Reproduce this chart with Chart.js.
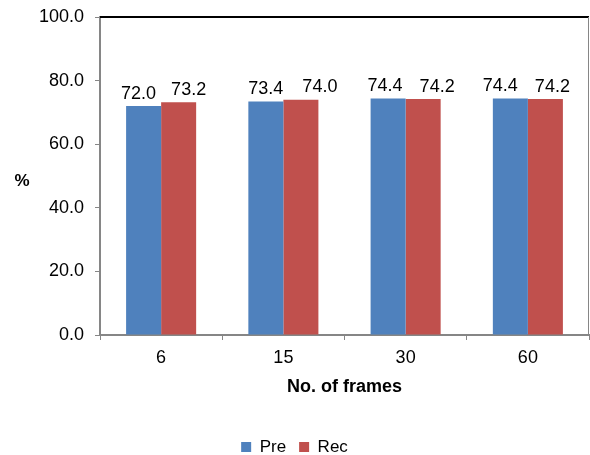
<!DOCTYPE html>
<html>
<head>
<meta charset="utf-8">
<title>Pre / Rec by number of frames</title>
<script src="https://cdn.jsdelivr.net/npm/chart.js@4/dist/chart.umd.min.js"></script>
<style>
  html, body { margin: 0; padding: 0; background: #ffffff; }
  #wrap { width: 590px; height: 455px; }
</style>
</head>
<body>
<div id="wrap"><canvas id="chart" width="590" height="455"></canvas></div>
<script>
// Number of frames used per sample
const frames = ['6', '15', '30', '60'];
// Precision and recall (%)
const preValues = [72.0, 73.4, 74.4, 74.4];
const recValues = [73.2, 74.0, 74.2, 74.2];
// Value axis ticks
const yTicks = [0, 20, 40, 60, 80, 100];

const FONT = '"Liberation Sans", Arial, sans-serif';
const AXIS_GREY = '#868686';

// Value labels above each bar, the "%" axis caption and the plot frame lines
const decorations = {
  id: 'decorations',
  afterDatasetsDraw(chart, args, opts) {
    const ctx = chart.ctx;
    const area = chart.chartArea;
    ctx.save();
    // frame: black line along the top, grey along the right
    ctx.strokeStyle = '#000000';
    ctx.lineWidth = 2;
    ctx.beginPath();
    ctx.moveTo(area.left, area.top);
    ctx.lineTo(area.right, area.top);
    ctx.stroke();
    ctx.strokeStyle = AXIS_GREY;
    ctx.lineWidth = 1;
    ctx.beginPath();
    ctx.moveTo(area.right - 0.5, area.top);
    ctx.lineTo(area.right - 0.5, area.bottom);
    ctx.stroke();

    // bar values, nudged sideways so neighbouring labels do not collide
    ctx.fillStyle = '#000000';
    ctx.font = '18px ' + FONT;
    ctx.textAlign = 'center';
    ctx.textBaseline = 'alphabetic';
    chart.data.datasets.forEach((ds, i) => {
      const shift = opts.labelShift[ds.label] || [];
      chart.getDatasetMeta(i).data.forEach((bar, j) => {
        ctx.fillText(ds.data[j].toFixed(1), bar.x + (shift[j] || 0), bar.y - 7.5);
      });
    });

    // unrotated y-axis caption
    ctx.font = 'bold 17px ' + FONT;
    ctx.textBaseline = 'middle';
    ctx.fillText('%', 22, (area.top + area.bottom) / 2 + 5);
    ctx.restore();
  }
};

new Chart(document.getElementById('chart'), {
  type: 'bar',
  data: {
    labels: frames,
    datasets: [
      { label: 'Pre', data: preValues, backgroundColor: '#4F81BD', borderWidth: 0 },
      { label: 'Rec', data: recValues, backgroundColor: '#C0504D', borderWidth: 0 }
    ]
  },
  options: {
    responsive: false,
    animation: false,
    devicePixelRatio: 1,
    layout: { padding: { top: 17, right: 1, bottom: -10.5, left: 0 } },
    datasets: {
      bar: { categoryPercentage: 0.573, barPercentage: 1.0 }
    },
    plugins: {
      decorations: {
        labelShift: { Pre: [-5, 0, -3, -10], Rec: [10, 19, 14, 7] }
      },
      legend: {
        position: 'bottom',
        labels: {
          boxWidth: 10,
          boxHeight: 10,
          padding: 13,
          color: '#000000',
          font: { family: FONT, size: 17 }
        }
      },
      tooltip: { enabled: false },
      title: { display: false }
    },
    scales: {
      x: {
        grid: {
          offset: true,
          drawOnChartArea: false,
          drawTicks: true,
          tickLength: 5,
          tickColor: AXIS_GREY
        },
        border: { color: AXIS_GREY, width: 2 },
        ticks: {
          color: '#000000',
          padding: 7,
          font: { family: FONT, size: 18 }
        },
        title: {
          display: true,
          text: 'No. of frames',
          color: '#000000',
          font: { family: FONT, size: 18, weight: 'bold' },
          padding: { top: 0, bottom: 27.7 }
        },
        afterFit(scale) { scale.height = 90.5; }
      },
      y: {
        min: 0,
        max: 100,
        afterBuildTicks(scale) { scale.ticks = yTicks.map(v => ({ value: v })); },
        grid: {
          drawOnChartArea: false,
          drawTicks: true,
          tickLength: 5,
          tickColor: AXIS_GREY
        },
        border: { color: AXIS_GREY, width: 2 },
        ticks: {
          color: '#000000',
          padding: 11,
          font: { family: FONT, size: 18 },
          callback: v => Number(v).toFixed(1)
        },
        afterFit(scale) {
          scale.width = 100;
          scale.paddingTop = 0;
          scale.paddingBottom = 0;
        }
      }
    }
  },
  plugins: [decorations]
});
</script>
</body>
</html>
